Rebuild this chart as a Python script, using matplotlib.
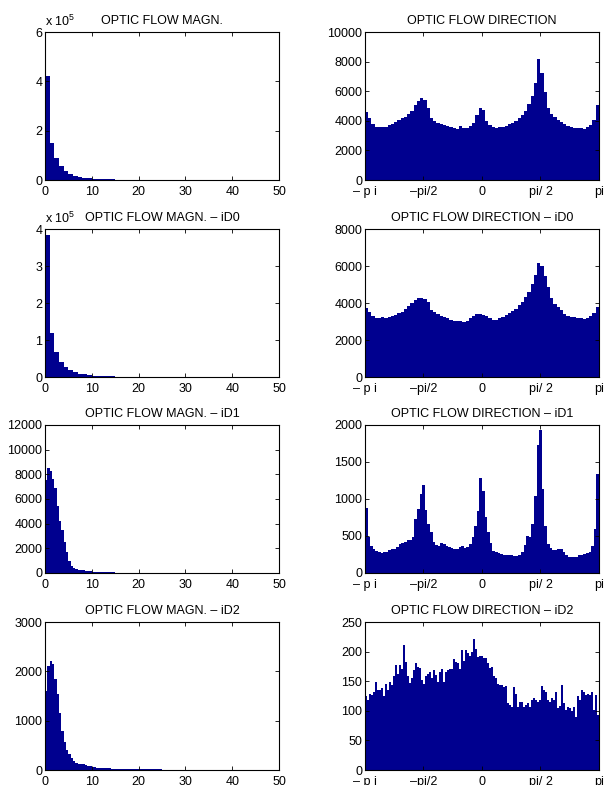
import numpy as np
import matplotlib
matplotlib.use('Agg')
import matplotlib.pyplot as plt

plt.rcParams['font.family'] = ['Liberation Sans', 'DejaVu Sans']
plt.rcParams['font.size'] = 9
plt.rcParams['mathtext.fontset'] = 'custom'
plt.rcParams['mathtext.rm'] = 'Liberation Sans'

BLEU = '#00008F'

# --- histogrammes de magnitude (bords des classes + hauteurs) ---
MAG_EDGES = list(range(16)) + [20, 30, 40, 50]
MAG_ALL = [420000, 150000, 89000, 57000, 37000, 25000, 17000, 12000, 8500, 6500,
           5000, 4000, 3200, 2600, 2100, 1200, 500, 250, 120]
MAG_ID0 = [384000, 119000, 67000, 41000, 28000, 19000, 13000, 9000, 7000, 5000,
           4000, 3200, 2500, 2000, 1600, 1000, 400, 200, 100]

ID1_EDGES = [i * 0.5 for i in range(25)] + [15, 20, 30, 50]
MAG_ID1 = [7500, 8550, 8300, 7600, 6900, 5400, 4200, 3500, 2500, 1700,
           950, 550, 380, 300, 270, 250, 220, 190, 160, 130,
           110, 95, 85, 75, 55, 35, 20, 10]

ID2_EDGES = [i * 0.5 for i in range(25)] + [14, 17, 20, 25, 30, 40, 50]
MAG_ID2 = [1600, 2100, 2220, 2150, 1850, 1550, 1150, 800, 560, 400,
           320, 250, 190, 150, 130, 120, 115, 100, 85, 75,
           65, 55, 50, 45, 38, 30, 22, 15, 10, 7, 5]

# --- histogrammes de direction (de -pi a pi) ---
DIR_ALL = [4610, 4160, 3760, 3560, 3560, 3600, 3580, 3690, 3760, 3910,
           4050, 4190, 4280, 4430, 4640, 5060, 5310, 5510, 5400, 4840,
           4210, 3980, 3870, 3780, 3710, 3650, 3560, 3510, 3470, 3620,
           3490, 3510, 3620, 3870, 4370, 4840, 4730, 4010, 3690, 3560,
           3490, 3560, 3600, 3670, 3760, 3870, 4010, 4160, 4370, 4680,
           5130, 5670, 6530, 8150, 7200, 5960, 4840, 4460, 4230, 4050,
           3910, 3780, 3650, 3560, 3510, 3510, 3510, 3470, 3580, 3690,
           4050, 5060]
DIR_ID0 = [3720, 3490, 3280, 3170, 3190, 3240, 3170, 3260, 3290, 3380,
           3440, 3540, 3670, 3830, 3990, 4150, 4280, 4300, 4240, 4030,
           3630, 3530, 3400, 3310, 3240, 3190, 3110, 3030, 3040, 3010,
           2970, 3030, 3200, 3310, 3400, 3420, 3370, 3280, 3190, 3110,
           3110, 3170, 3260, 3330, 3440, 3560, 3690, 3870, 4080, 4310,
           4620, 5010, 5510, 6180, 6000, 5460, 4850, 4280, 3940, 3760,
           3600, 3420, 3310, 3240, 3240, 3190, 3190, 3130, 3190, 3290,
           3470, 3810]
DIR_ID1 = [880, 480, 370, 320, 300, 285, 275, 280, 290, 305,
           320, 318, 350, 385, 405, 420, 440, 450, 480, 730,
           870, 1065, 1190, 855, 660, 550, 415, 380, 370, 400,
           390, 360, 350, 335, 330, 325, 345, 360, 335, 350,
           395, 480, 640, 840, 1290, 1110, 750, 550, 405, 300,
           280, 275, 255, 245, 237, 245, 240, 233, 228, 245,
           290, 380, 505, 480, 660, 1040, 1735, 1930, 1130, 640,
           395, 335, 315, 305, 325, 318, 280, 245, 220, 215,
           215, 220, 237, 245, 255, 270, 290, 360, 595, 1335]
DIR_ID2 = [125, 118, 128, 127, 132, 149, 136, 135, 138, 125,
           145, 136, 149, 144, 158, 177, 163, 177, 170, 211,
           183, 158, 147, 155, 169, 180, 174, 172, 152, 146,
           158, 163, 166, 155, 169, 160, 149, 166, 170, 149,
           166, 169, 170, 170, 187, 183, 180, 170, 203, 185,
           203, 198, 193, 200, 221, 205, 191, 192, 193, 190,
           190, 181, 173, 174, 158, 155, 145, 144, 144, 141,
           142, 113, 110, 106, 141, 129, 106, 115, 115, 106,
           110, 114, 106, 118, 121, 118, 115, 119, 142, 135,
           132, 118, 115, 121, 118, 132, 104, 108, 144, 113,
           101, 107, 104, 99, 106, 89, 125, 118, 135, 131,
           127, 128, 127, 132, 101, 127, 93]

DIR_TICKS = [-np.pi, -np.pi / 2, 0, np.pi / 2, np.pi]
DIR_LABELS = ['\u2013 p i', '\u2013pi/2', '0', 'pi/ 2', 'pi']
MAG_TICKS = [0, 10, 20, 30, 40, 50]

SUFFIXES = ['', ' \u2013 iD0', ' \u2013 iD1', ' \u2013 iD2']
MAG_DATA = [(MAG_EDGES, MAG_ALL), (MAG_EDGES, MAG_ID0), (ID1_EDGES, MAG_ID1), (ID2_EDGES, MAG_ID2)]
DIR_DATA = [DIR_ALL, DIR_ID0, DIR_ID1, DIR_ID2]
MAG_YTICKS = [[0, 2e5, 4e5, 6e5], [0, 1e5, 2e5, 3e5, 4e5],
              [0, 2000, 4000, 6000, 8000, 10000, 12000], [0, 1000, 2000, 3000]]
MAG_SCALE = [1e5, 1e5, 1, 1]
DIR_YTICKS = [[0, 2000, 4000, 6000, 8000, 10000], [0, 2000, 4000, 6000, 8000],
              [0, 500, 1000, 1500, 2000], [0, 50, 100, 150, 200, 250]]


def habille(ax, titre):
    ax.set_title(titre, fontsize=9, pad=6)
    ax.tick_params(direction='in', top=True, right=True, length=3, width=0.6,
                   labelsize=9)
    ax.tick_params(axis='x', pad=4)
    ax.tick_params(axis='y', pad=2)
    for s in ax.spines.values():
        s.set_linewidth(0.8)


fig = plt.figure(figsize=(6.04, 7.85), dpi=100)

gauche, droite, larg, haut = 0.0745, 0.6043, 0.3874, 0.1885
bas = [0.7707, 0.5197, 0.2701, 0.0191]

for k in range(4):
    # magnitude
    ax = fig.add_axes([gauche, bas[k], larg, haut])
    edges, vals = MAG_DATA[k]
    ax.stairs(vals, edges, fill=True, color=BLEU, linewidth=1.6, baseline=0)
    ax.set_xlim(0, 50)
    ax.set_ylim(0, MAG_YTICKS[k][-1])
    ax.set_xticks(MAG_TICKS)
    ax.set_yticks(MAG_YTICKS[k])
    ax.set_yticklabels(['%g' % (t / MAG_SCALE[k]) for t in MAG_YTICKS[k]])
    habille(ax, 'OPTIC FLOW MAGN.' + SUFFIXES[k])
    if MAG_SCALE[k] != 1:
        ax.text(0.0, 1.02, r'x 10$^{\mathregular{5}}$', transform=ax.transAxes,
                ha='left', va='bottom', fontsize=9)

    # direction
    ax = fig.add_axes([droite, bas[k], larg, haut])
    vals = DIR_DATA[k]
    edges = np.linspace(-np.pi, np.pi, len(vals) + 1)
    ax.stairs(vals, edges, fill=True, color=BLEU, linewidth=0.3, baseline=0)
    ax.set_xlim(-np.pi, np.pi)
    ax.set_ylim(0, DIR_YTICKS[k][-1])
    ax.set_xticks(DIR_TICKS)
    ax.set_xticklabels(DIR_LABELS)
    ax.set_yticks(DIR_YTICKS[k])
    habille(ax, 'OPTIC FLOW DIRECTION' + SUFFIXES[k])

fig.savefig('out.png', dpi=100)
